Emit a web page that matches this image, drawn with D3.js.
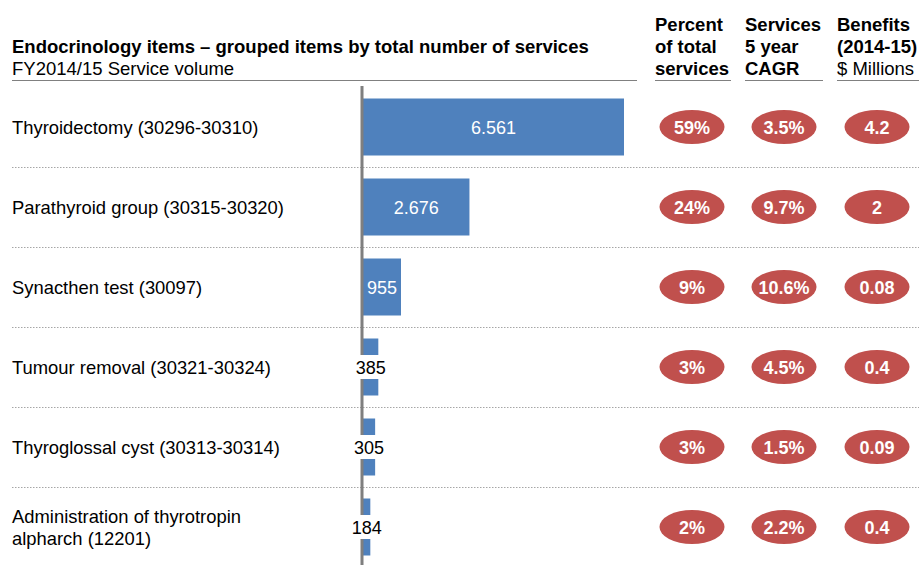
<!DOCTYPE html>
<meta charset="utf-8">
<head>
<script src="https://cdn.jsdelivr.net/npm/d3@7"></script>
<style>
body { margin: 0; background: #fff; font-family: "Liberation Sans", Arial, sans-serif; }
.hdr { font-weight: bold; font-size: 18.5px; fill: #000; }
.sub { font-size: 18.5px; fill: #000; }
.cat { font-size: 18.4px; fill: #000; }
.sep { stroke: #a6a6a6; stroke-dasharray: 1.5,1.5; }
.rule { stroke: #808080; stroke-width: 1; }
.bar { fill: #4f81bd; }
.pill { fill: #c0504d; }
.pilltxt { fill: #fff; font-weight: bold; font-size: 18px; }
</style>
</head>
<body>
<div id="chart"></div>
<script>
// data
var categories = [
  "Thyroidectomy (30296-30310)",
  "Parathyroid group (30315-30320)",
  "Synacthen test (30097)",
  "Tumour removal (30321-30324)",
  "Thyroglossal cyst (30313-30314)",
  "Administration of thyrotropin|alpharch (12201)"
];
var services = [6561, 2676, 955, 385, 305, 184];
var pctTotal = ["59%", "24%", "9%", "3%", "3%", "2%"];
var cagr = ["3.5%", "9.7%", "10.6%", "4.5%", "1.5%", "2.2%"];
var benefits = ["4.2", "2", "0.08", "0.4", "0.09", "0.4"];

var W = 919, H = 565;
var svg = d3.select("#chart").append("svg")
    .attr("width", W).attr("height", H);

// number format with "." as thousands separator
var fmt = d3.formatLocale({decimal: ",", thousands: ".", grouping: [3], currency: ["$", ""]}).format(",d");

var y = d3.scaleBand().domain(d3.range(categories.length)).range([87, 567]).padding(0);
var x = d3.scaleLinear().domain([0, 6561]).range([363, 624]);
var barH = 57;

// header
svg.append("text").attr("class", "hdr").attr("x", 12).attr("y", 53)
  .text("Endocrinology items \u2013 grouped items by total number of services");
svg.append("text").attr("class", "sub").attr("x", 12).attr("y", 75)
  .text("FY2014/15 Service volume");
svg.append("line").attr("class", "rule").attr("x1", 12).attr("x2", 637).attr("y1", 80.5).attr("y2", 80.5);

var cols = [
  {x: 655, x2: 731, lines: [["Percent", true], ["of total", true], ["services", true]]},
  {x: 745, x2: 823, lines: [["Services", true], ["5 year", true], ["CAGR", true]]},
  {x: 837, x2: 919, lines: [["Benefits", true], ["(2014-15)", true], ["$ Millions", false]]}
];
cols.forEach(function(c) {
  c.lines.forEach(function(l, i) {
    svg.append("text").attr("class", l[1] ? "hdr" : "sub")
      .attr("x", c.x).attr("y", 31 + i * 22).text(l[0]);
  });
  svg.append("line").attr("class", "rule").attr("x1", c.x).attr("x2", c.x2).attr("y1", 80.5).attr("y2", 80.5);
});

// row separators
svg.selectAll(".sep").data(d3.range(1, categories.length)).enter().append("line")
  .attr("class", "sep")
  .attr("x1", 12).attr("x2", W)
  .attr("y1", function(i) { return y(i) + 0.5; })
  .attr("y2", function(i) { return y(i) + 0.5; });

// category labels
categories.forEach(function(c, i) {
  var parts = c.split("|");
  var cy = y(i) + y.bandwidth() / 2;
  parts.forEach(function(p, j) {
    svg.append("text").attr("class", "cat").attr("x", 12)
      .attr("y", cy + 6.5 + (j - (parts.length - 1) / 2) * 22)
      .text(p);
  });
});

// bars
svg.selectAll(".bar").data(services).enter().append("rect")
  .attr("class", "bar")
  .attr("x", x(0))
  .attr("y", function(d, i) { return y(i) + (y.bandwidth() - barH) / 2; })
  .attr("width", function(d) { return x(d) - x(0); })
  .attr("height", barH);

// axis line
svg.append("line").attr("x1", 362).attr("x2", 362).attr("y1", 86).attr("y2", H)
  .attr("stroke", "#7f7f7f").attr("stroke-width", 3);

// value labels
services.forEach(function(d, i) {
  var cy = y(i) + y.bandwidth() / 2;
  var cx = (x(0) + x(d)) / 2;
  var t = svg.append("text").attr("x", cx).attr("y", cy + 6.5)
    .attr("text-anchor", "middle").style("font-size", "18px").text(fmt(d));
  var tw = t.node().getComputedTextLength();
  if (tw + 4 < x(d) - x(0)) {
    t.attr("fill", "#fff");
  } else {
    t.attr("fill", "#000");
    svg.insert("rect", function() { return t.node(); })
      .attr("x", cx - tw / 2 - 2).attr("y", cy - 12)
      .attr("width", tw + 4).attr("height", 24).attr("fill", "#fff");
  }
});

// ellipses
var pillCols = [{cx: 692, vals: pctTotal}, {cx: 784, vals: cagr}, {cx: 877, vals: benefits}];
pillCols.forEach(function(pc) {
  pc.vals.forEach(function(v, i) {
    var cy = y(i) + y.bandwidth() / 2;
    svg.append("ellipse").attr("class", "pill")
      .attr("cx", pc.cx).attr("cy", cy).attr("rx", 32.5).attr("ry", 17);
    svg.append("text").attr("class", "pilltxt").attr("x", pc.cx).attr("y", cy + 6.5)
      .attr("text-anchor", "middle").text(v);
  });
});
</script>
</body>
